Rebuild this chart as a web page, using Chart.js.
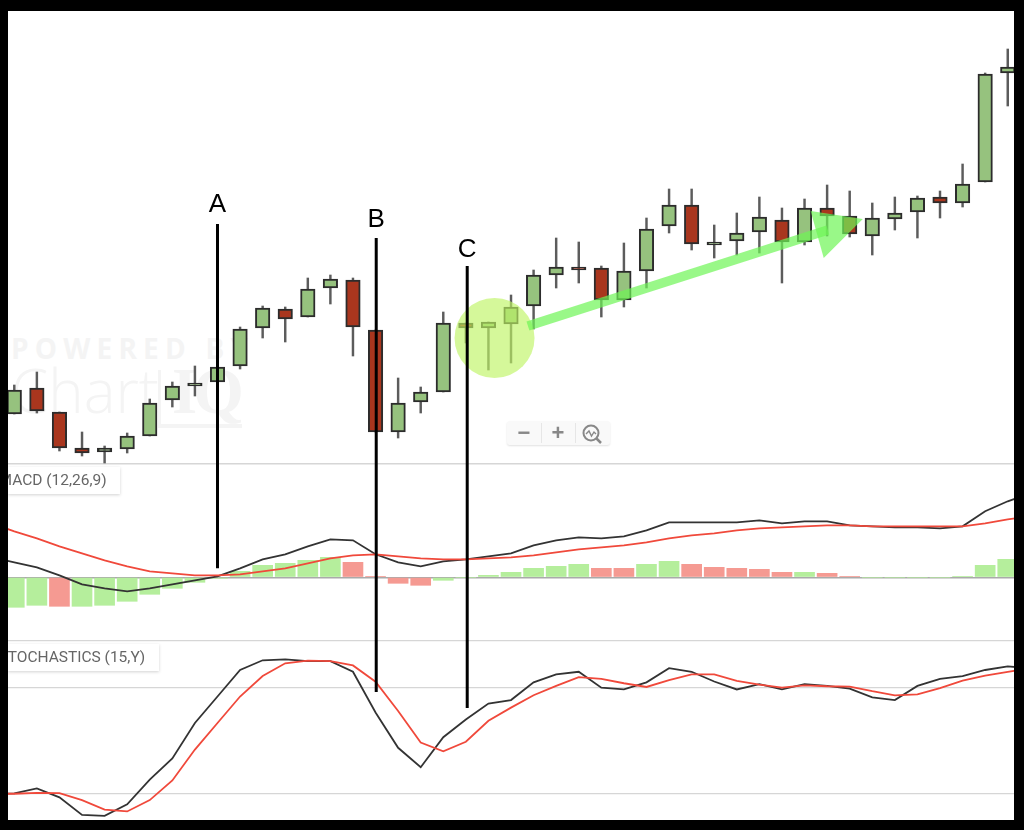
<!DOCTYPE html>
<html>
<head>
<meta charset="utf-8">
<title>Candlestick chart with MACD and Stochastics</title>
<script src="https://cdn.jsdelivr.net/npm/chart.js@4"></script>
<style>
  html,body{margin:0;padding:0;background:#fff;width:1024px;height:830px;overflow:hidden}
  #wrap{position:relative;width:1024px;height:830px}
  #c{position:absolute;left:0;top:0;z-index:2}
  .wm{position:absolute;color:#f4f4f4;z-index:1;white-space:nowrap}
  #wm1{left:11px;top:329px;font:700 28px "Open Sans",sans-serif;letter-spacing:6.2px}
  #wm2{left:11px;top:360px;font:300 60px/60px "Open Sans",sans-serif}
  #wm3{left:172px;top:359px;font:700 65px/65px "Liberation Serif",serif;letter-spacing:-4px}
  #wm4{left:158px;top:424px;width:84px;height:4px;background:#f4f4f4}
  #wm5{left:158px;top:370px;width:3px;height:58px;background:#f4f4f4}
  .tag{position:absolute;z-index:3;background:#fff;box-shadow:0 1px 3px rgba(0,0,0,.18);color:#666;font:15.5px Roboto,sans-serif;line-height:27px;height:27px;overflow:hidden;white-space:nowrap;box-sizing:border-box}
  #zoomer{position:absolute;z-index:3;left:507px;top:421px;width:103px;height:24px;background:#f9f9f9;border-radius:3px;box-shadow:0 1px 2px rgba(0,0,0,.12);color:#888}
  #zoomer span{position:absolute;top:0;height:24px;text-align:center;line-height:23px;font:700 22px/23px "Liberation Sans",sans-serif}
  #zoomer i{position:absolute;top:2px;width:1px;height:20px;background:#e6e6e6}
  #frame{position:absolute;z-index:5;left:0;top:0;width:1024px;height:830px;box-sizing:border-box;border:solid #000;border-width:11px 10px 10px 8px;pointer-events:none}
</style>
</head>
<body>
<div id="wrap">
  <div class="wm" id="wm1">POWERED BY</div>
  <div class="wm" id="wm2">Chart</div>
  <div class="wm" id="wm3">IQ</div>
  <div class="wm" id="wm4"></div>
  <div class="wm" id="wm5"></div>
  <canvas id="c" width="1024" height="830"></canvas>
  <div class="tag" style="left:8px;top:467px;width:112px;text-indent:-9.5px">MACD (12,26,9)</div>
  <div class="tag" style="left:8px;top:644px;width:151px;text-indent:-9.5px">STOCHASTICS (15,Y)</div>
  <div id="zoomer">
    <span style="left:3px;width:28px">&minus;</span><i style="left:34px"></i>
    <span style="left:37px;width:28px">+</span><i style="left:68px"></i>
    <span style="left:71px;width:28px">
      <svg width="22" height="22" viewBox="0 0 22 22" style="margin-top:2px"><circle cx="10" cy="10" r="7.5" fill="none" stroke="#888" stroke-width="2"/><path d="M15.5 15.5L20 20" stroke="#888" stroke-width="2.5"/><path d="M5 11l3-3 2.500 5 2.500-4 2 2" fill="none" stroke="#888" stroke-width="1.400"/></svg>
    </span>
  </div>
  <div id="frame"></div>
</div>
<script>
// candles sit on index 1..45; the line series also carry one point either side, off the visible edge
var opens =[50,76,52,16,12,15,28,64,78,82,98,136,155,147,176,184,134,32,62,72,141,136,140,158,189,197,196,164,193,238,259,219,223,232,244,222,256,248,228,245,252,267,261,282,391];
var closes=[74,53,16,11,16,28,61,78,81,97,135,156,145,175,185,137,32,61,72,141,136,142,157,189,197,194,164,193,235,259,220,222,231,247,222,256,248,230,246,251,266,261,280,390,397];
var highs =[79,92,52,32,18,31,65,82,98,97,137,158,157,186,189,186,134,86,77,152,141,142,169,194,226,222,198,221,246,275,275,239,251,267,256,265,279,273,261,267,268,273,300,391,415];
var lows  =[50,51,13,8,1,11,28,57,68,82,95,126,122,147,160,108,32,26,51,72,121,94,101,135,176,181,147,157,176,231,214,206,209,211,181,219,228,227,209,234,226,246,257,282,358];

var histValues=[-30,-28,-29,-29,-28,-24,-17,-11,-5,-1,6,12,14,17,20,15,1,-6,-8,-3,0,2,5,9,11,13,9,9,13,16,13,10,9,8,5,5,4,1,0,0,0,0,1,12,18];
var histUp    =[1,1,0,1,1,1,1,1,1,1,1,1,1,1,1,0,0,0,0,1,1,1,1,1,1,1,0,0,1,1,0,0,0,0,0,1,0,0,1,1,1,1,1,1,1];
var macdLine  =[20,15,10,2,-7,-11,-14,-11,-7,-3,1,9,18,23,31,38,37,23,15,11,16,18,21,24,32,37,40,39,41,47,55,55,55,55,57,54,56,56,52,51,50,50,49,51,66,76,84];
var macdSignal=[54,46,39,31,24,17,11,6,4,2,2,3,6,9,14,19,22,23,21,19,18,18,19,20,22,25,28,30,32,35,39,42,44,47,49,50,51,52,52,51,51,51,51,51,54,58,61];

var stochK=[20,20.2,23,18,8,7.5,14,28,40,60,75,90,95.5,96,95,95,89,66,46,35,52,62,71,73,83,87.5,89,80,79,83,91,89,83.5,79,82,79,82,81,79.5,74.5,73,81,85,86.5,90,92,91];
var stochD=[20,20,20.5,20.4,16.4,11,10,16.4,27.5,45,60,75,86.6,93.8,95.3,95,92.6,83.4,66.8,49,44,49.4,61.3,68.7,75.7,81,86,85,82.5,80.4,84.3,87.5,87.5,83.8,81.7,80,81.3,80.8,80.6,78,75.7,76.2,79.8,84,86.8,89,91];

// hand-drawn markup: [label, candle index, top price, bottom axis, bottom value, label gap]
var markers=[["A",10,240,"yMacd",9,12],["B",17.03,226,"yStoch",77.5,11],["C",21.06,198,"yStoch",68.5,9]];

var GREEN="#96C27E", RED="#A9361E";
function xy(a,off){return a.map(function(v,i){return {x:i+off,y:v};});}
function bodyData(){return opens.map(function(o,i){return {x:i+1,y:[o,closes[i]]};});}
function wickData(){return highs.map(function(h,i){return {x:i+1,y:[lows[i],h]};});}
function histData(){return histValues.map(function(v,i){return {x:i+1,y:v};});}

var markup={
  id:"markup",
  afterDatasetsDraw:function(chart){
    var g=chart.ctx,X=chart.scales.x,P=chart.scales.yPrice;
    g.save();
    // green circle round the three hammers
    g.fillStyle="rgba(190,245,100,0.65)";
    g.beginPath();g.arc(X.getPixelForValue(22.27),P.getPixelForValue(126),40,0,Math.PI*2);g.fill();
    // arrow
    g.strokeStyle="rgba(110,245,85,0.70)";g.lineWidth=9.5;
    g.beginPath();g.moveTo(X.getPixelForValue(23.75),P.getPixelForValue(138));
    g.lineTo(X.getPixelForValue(37.03),P.getPixelForValue(234));g.stroke();
    g.fillStyle="rgba(110,245,85,0.70)";
    g.beginPath();g.moveTo(X.getPixelForValue(36.27),P.getPixelForValue(253));
    g.lineTo(X.getPixelForValue(38.58),P.getPixelForValue(245));
    g.lineTo(X.getPixelForValue(36.85),P.getPixelForValue(206));g.closePath();g.fill();
    // A B C
    g.strokeStyle="#000";g.lineWidth=3;g.fillStyle="#000";
    g.font='26px "Liberation Sans",sans-serif';g.textAlign="center";g.textBaseline="alphabetic";
    markers.forEach(function(m){
      var x=X.getPixelForValue(m[1]),top=P.getPixelForValue(m[2]);
      g.beginPath();g.moveTo(x,top);g.lineTo(x,chart.scales[m[3]].getPixelForValue(m[4]));g.stroke();
      g.fillText(m[0],x,top-m[5]);
    });
    g.restore();
  }
};

function paneGrid(colorFn){return {color:colorFn,lineWidth:function(c){return c.tick.value===0?1.6:1.2;},drawTicks:false};}
var light=function(){return "#d6d6d6";};

new Chart(document.getElementById("c").getContext("2d"),{
  type:"bar",
  data:{datasets:[
    {type:"bar",data:wickData(),xAxisID:"x",yAxisID:"yPrice",backgroundColor:"#5c5c5c",barThickness:1.8,grouped:false,order:6},
    {type:"bar",data:bodyData(),xAxisID:"x",yAxisID:"yPrice",grouped:false,barThickness:14.5,order:5,borderWidth:2,borderSkipped:false,borderColor:"#2c2c2c",
      backgroundColor:opens.map(function(o,i){return closes[i]>=o?GREEN:RED;})},
    {type:"bar",data:histData(),xAxisID:"x",yAxisID:"yMacd",grouped:false,barThickness:20,order:4,
      backgroundColor:histUp.map(function(u){return u?"#B5EE9C":"#F59A92";})},
    {type:"line",data:xy(macdLine,0),xAxisID:"x",yAxisID:"yMacd",borderColor:"#333",borderWidth:1.8,pointRadius:0,tension:0,order:2},
    {type:"line",data:xy(macdSignal,0),xAxisID:"x",yAxisID:"yMacd",borderColor:"#F0493B",borderWidth:1.8,pointRadius:0,tension:0,order:1},
    {type:"line",data:xy(stochK,0),xAxisID:"x",yAxisID:"yStoch",borderColor:"#333",borderWidth:1.8,pointRadius:0,tension:0,order:2},
    {type:"line",data:xy(stochD,0),xAxisID:"x",yAxisID:"yStoch",borderColor:"#F0493B",borderWidth:1.8,pointRadius:0,tension:0,order:1}
  ]},
  options:{
    responsive:false,animation:false,
    layout:{padding:0},
    plugins:{legend:{display:false},tooltip:{enabled:false}},
    scales:{
      x:{type:"linear",display:false,min:0.367,max:45.72,offset:false},
      yPrice:{position:"left",stack:"panes",stackWeight:464,weight:3,min:0,max:464,
        ticks:{display:false},border:{display:false},grid:paneGrid(light),
        afterBuildTicks:function(s){s.ticks=[{value:0}];}},
      yMacd:{position:"left",stack:"panes",stackWeight:177,weight:2,min:-63.7,max:113.3,
        ticks:{display:false},border:{display:false},
        grid:paneGrid(function(c){return c.tick.value===0?"#aaa":"#d6d6d6";}),
        afterBuildTicks:function(s){s.ticks=[{value:-63.7},{value:0}];}},
      yStoch:{position:"left",stack:"panes",stackWeight:189,weight:1,min:-0.5,max:106.4,
        ticks:{display:false},border:{display:false},grid:paneGrid(light),
        afterBuildTicks:function(s){s.ticks=[{value:20},{value:80}];}}
    }
  },
  plugins:[markup]
});
</script>
</body>
</html>
